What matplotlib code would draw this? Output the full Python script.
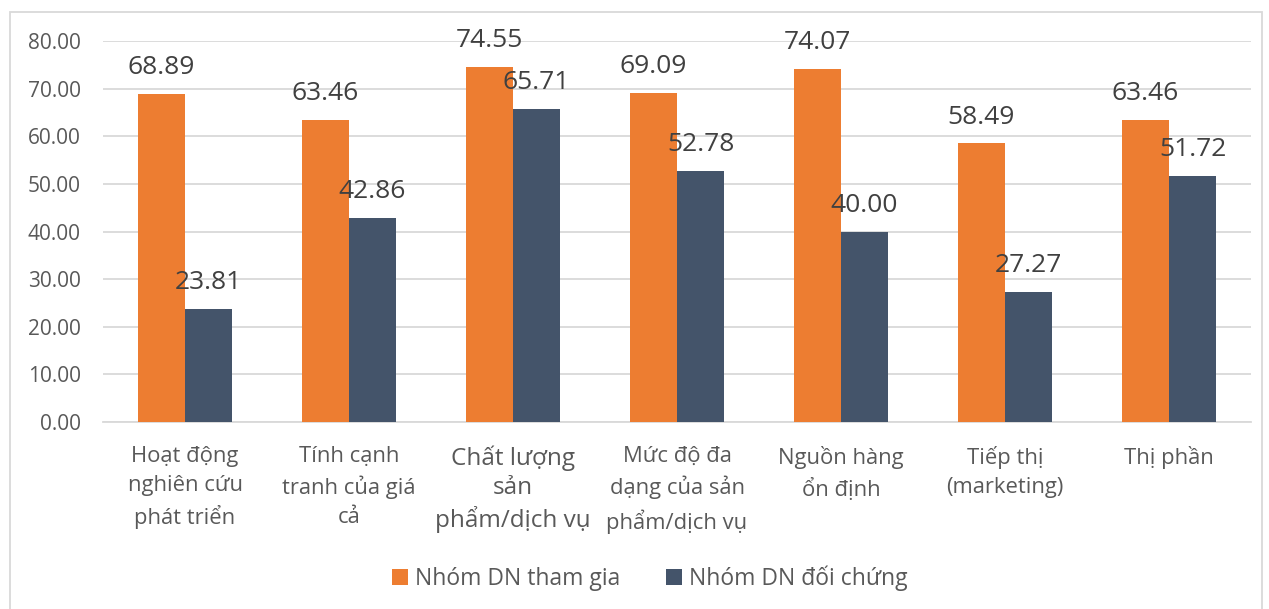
import matplotlib
matplotlib.use("Agg")
import matplotlib.pyplot as plt
import numpy as np
from matplotlib.patches import Rectangle

plt.rcParams['font.family'] = ['Open Sans', 'DejaVu Sans']

categories = [
    "Hoạt động\nnghiên cứu\nphát triển",
    "Tính cạnh\ntranh của giá\ncả",
    "Chất lượng\nsản\nphẩm/dịch vụ",
    "Mức độ đa\ndạng của sản\nphẩm/dịch vụ",
    "Nguồn hàng\nổn định",
    "Tiếp thị\n(marketing)",
    "Thị phần",
]
series_names = ["Nhóm DN tham gia", "Nhóm DN đối chứng"]
tham_gia = [68.89, 63.46, 74.55, 69.09, 74.07, 58.49, 63.46]
doi_chung = [23.81, 42.86, 65.71, 52.78, 40.00, 27.27, 51.72]
yticks = [0, 10, 20, 30, 40, 50, 60, 70, 80]

c_orange = "#ED7D31"
c_navy = "#44546A"
c_text = "#595959"
c_grid = "#D9D9D9"

fig = plt.figure(figsize=(12.69, 6.09), dpi=100)
ax = fig.add_axes([103 / 1269, 1 - 422 / 609, (1251 - 103) / 1269, (422 - 41) / 609])

x = np.arange(len(categories))
bw = 0.287
b1 = ax.bar(x - bw / 2, tham_gia, bw, color=c_orange, label=series_names[0], zorder=3)
b2 = ax.bar(x + bw / 2, doi_chung, bw, color=c_navy, label=series_names[1], zorder=3)

for bars, vals in ((b1, tham_gia), (b2, doi_chung)):
    for rect, v in zip(bars, vals):
        ax.annotate(f"{v:.2f}", (rect.get_x() + rect.get_width() / 2, v),
                    xytext=(0, 19), textcoords="offset points",
                    ha="center", va="center", fontsize=19, color="#404040")

ax.set_xlim(-0.5, len(categories) - 0.5)
ax.set_ylim(0, 80)
ax.set_yticks(yticks)
ax.set_yticklabels([f"{t:.2f}" for t in yticks], fontsize=15, color=c_text)
ax.yaxis.grid(True, color=c_grid, linewidth=1.3, zorder=0)
ax.set_axisbelow(True)
for s in ("top", "right", "left"):
    ax.spines[s].set_visible(False)
ax.spines["bottom"].set_color(c_grid)
ax.spines["bottom"].set_linewidth(1.3)
ax.tick_params(axis="y", length=0, pad=16)
ax.tick_params(axis="x", length=0, pad=17)

ax.set_xticks(x)
ax.set_xticklabels(categories, fontsize=15.8, color=c_text, linespacing=1.5, va="top")
lbl = ax.get_xticklabels()[2]
lbl.set_fontsize(17.5)
lbl.set_linespacing(1.28)

leg = fig.legend(handles=[b1, b2], loc="center", bbox_to_anchor=(650 / 1269, 1 - 578 / 609),
                 ncol=2, frameon=False, fontsize=16.5, handlelength=0.7, handleheight=0.7,
                 handletextpad=0.3, columnspacing=2.0)
for t in leg.get_texts():
    t.set_color(c_text)

fig.patches.append(Rectangle((10 / 1269, -0.01), 1252 / 1269, 1 - 12 / 609 + 0.01,
                             transform=fig.transFigure, fill=False,
                             edgecolor=c_grid, linewidth=1.3))

fig.savefig("out.png", dpi=100)
